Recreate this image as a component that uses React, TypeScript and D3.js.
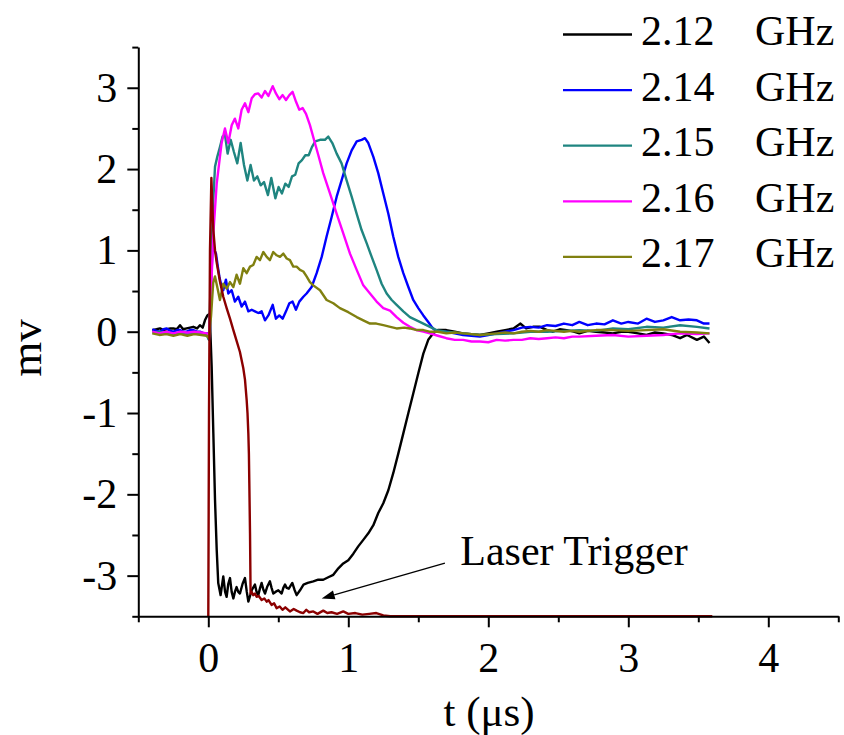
import { useEffect, useRef } from 'react';
import * as d3 from 'd3';

type Pt = [number, number];

// t (µs), mv
const black212: Pt[] = [
  [-0.4, 0.02], [-0.37, 0.03], [-0.345, 0.04], [-0.32, 0.02], [-0.298, 0.03], [-0.27, 0.04], [-0.25, 0.04],
  [-0.225, 0.03], [-0.202, 0.08], [-0.18, 0.03], [-0.155, 0.04], [-0.13, 0.05], [-0.107, 0.06], [-0.08, 0.04],
  [-0.06, 0.08], [-0.04, 0.05], [-0.024, 0.14], [-0.007, 0.2], [0.01, 0.22], [0.024, -0.43], [0.036, -1.25],
  [0.048, -2.07], [0.06, -2.68], [0.071, -3.09], [0.088, -3.24], [0.107, -3.01], [0.12, -3.2], [0.131, -3.26],
  [0.143, -3.1], [0.155, -3.03], [0.167, -3.2], [0.179, -3.28], [0.19, -3.2], [0.202, -3.14], [0.214, -3.2],
  [0.226, -3.22], [0.245, -3.1], [0.262, -3.03], [0.275, -3.2], [0.286, -3.32], [0.298, -3.25], [0.31, -3.18],
  [0.333, -3.11], [0.345, -3.2], [0.357, -3.24], [0.37, -3.15], [0.381, -3.09], [0.393, -3.17], [0.405, -3.22],
  [0.42, -3.14], [0.44, -3.07], [0.452, -3.15], [0.464, -3.22], [0.48, -3.2], [0.5, -3.18], [0.512, -3.2],
  [0.524, -3.22], [0.536, -3.15], [0.548, -3.11], [0.56, -3.15], [0.575, -3.16], [0.6, -3.09], [0.615, -3.17],
  [0.631, -3.24], [0.655, -3.18], [0.68, -3.11], [0.71, -3.09], [0.75, -3.07], [0.785, -3.05], [0.821, -3.05],
  [0.857, -3.02], [0.893, -2.99], [0.929, -2.91], [0.964, -2.85], [1.0, -2.81], [1.036, -2.73], [1.071, -2.64],
  [1.107, -2.56], [1.143, -2.48], [1.179, -2.38], [1.214, -2.23], [1.25, -2.11], [1.286, -1.95], [1.321, -1.74],
  [1.357, -1.5], [1.393, -1.25], [1.429, -1.0], [1.464, -0.76], [1.5, -0.51], [1.536, -0.27], [1.571, -0.1],
  [1.607, -0.02], [1.64, 0.02], [1.7, 0.02], [1.76, 0.0], [1.82, -0.02], [1.88, -0.03], [1.94, -0.04],
  [2.0, -0.02], [2.06, 0.0], [2.12, 0.02], [2.18, 0.04], [2.23, 0.1], [2.27, 0.04], [2.32, 0.06], [2.37, 0.06],
  [2.42, 0.02], [2.46, 0.0], [2.51, 0.03], [2.56, 0.02], [2.61, 0.0], [2.65, -0.02], [2.71, 0.01], [2.77, 0.0],
  [2.83, -0.01], [2.89, -0.02], [2.95, 0.0], [3.0, 0.0], [3.07, -0.02], [3.13, -0.04], [3.19, -0.01],
  [3.25, -0.02], [3.31, -0.04], [3.37, -0.08], [3.42, -0.04], [3.49, -0.1], [3.54, -0.06], [3.58, -0.14],
];

const blue214: Pt[] = [
  [-0.4, 0.03], [-0.37, 0.01], [-0.345, 0.0], [-0.32, 0.03], [-0.298, 0.04], [-0.27, 0.01], [-0.25, 0.0],
  [-0.22, 0.02], [-0.202, 0.02], [-0.18, 0.0], [-0.155, 0.0], [-0.13, 0.02], [-0.107, 0.02], [-0.08, 0.0],
  [-0.06, 0.0], [-0.03, -0.02], [-0.005, -0.02], [0.005, -0.1], [0.012, 0.02], [0.02, 0.6], [0.031, 1.05],
  [0.045, 1.0], [0.055, 0.96], [0.068, 0.8], [0.079, 0.68], [0.095, 0.55], [0.107, 0.51], [0.126, 0.64],
  [0.143, 0.47], [0.167, 0.51], [0.19, 0.37], [0.214, 0.43], [0.238, 0.31], [0.262, 0.37], [0.286, 0.25],
  [0.31, 0.27], [0.333, 0.25], [0.357, 0.23], [0.381, 0.25], [0.405, 0.14], [0.429, 0.2], [0.46, 0.33],
  [0.483, 0.16], [0.507, 0.2], [0.531, 0.16], [0.555, 0.25], [0.579, 0.35], [0.602, 0.37], [0.626, 0.27],
  [0.65, 0.37], [0.679, 0.43], [0.702, 0.47], [0.738, 0.55], [0.774, 0.72], [0.81, 0.92], [0.845, 1.17],
  [0.881, 1.41], [0.917, 1.66], [0.952, 1.86], [0.988, 2.07], [1.024, 2.23], [1.06, 2.34], [1.095, 2.36],
  [1.119, 2.38], [1.143, 2.32], [1.179, 2.15], [1.214, 1.95], [1.25, 1.7], [1.286, 1.45], [1.321, 1.17],
  [1.357, 0.92], [1.393, 0.72], [1.429, 0.55], [1.464, 0.39], [1.5, 0.29], [1.536, 0.2], [1.571, 0.12],
  [1.6, 0.05], [1.63, 0.0], [1.7, 0.0], [1.76, -0.02], [1.82, -0.04], [1.88, -0.05], [1.94, -0.06],
  [2.0, -0.04], [2.06, -0.02], [2.12, 0.0], [2.18, 0.02], [2.24, 0.05], [2.3, 0.06], [2.36, 0.05],
  [2.42, 0.08], [2.48, 0.07], [2.54, 0.1], [2.6, 0.08], [2.65, 0.12], [2.71, 0.08], [2.77, 0.1], [2.83, 0.09],
  [2.89, 0.14], [2.95, 0.1], [3.0, 0.12], [3.07, 0.1], [3.13, 0.16], [3.19, 0.12], [3.25, 0.14], [3.31, 0.18],
  [3.37, 0.14], [3.43, 0.15], [3.49, 0.14], [3.54, 0.1], [3.58, 0.1],
];

const teal215: Pt[] = [
  [-0.4, -0.01], [-0.35, 0.0], [-0.3, -0.02], [-0.25, -0.03], [-0.2, -0.02], [-0.15, -0.03], [-0.1, -0.02],
  [-0.05, -0.02], [-0.01, -0.05], [0.005, -0.1], [0.02, 0.8], [0.035, 1.6], [0.048, 2.03], [0.064, 2.15],
  [0.083, 2.27], [0.102, 2.4], [0.119, 2.42], [0.138, 2.19], [0.16, 2.36], [0.183, 2.21], [0.207, 2.07],
  [0.231, 2.32], [0.255, 2.05], [0.279, 1.86], [0.302, 2.05], [0.326, 1.86], [0.35, 1.91], [0.374, 1.8],
  [0.398, 1.84], [0.426, 1.68], [0.45, 1.89], [0.479, 1.64], [0.502, 1.78], [0.526, 1.7], [0.55, 1.82],
  [0.574, 1.78], [0.598, 1.91], [0.621, 1.93], [0.645, 2.07], [0.669, 2.11], [0.693, 2.17], [0.717, 2.17],
  [0.74, 2.27], [0.764, 2.34], [0.798, 2.36], [0.833, 2.36], [0.857, 2.4], [0.886, 2.32], [0.917, 2.19],
  [0.952, 2.07], [0.988, 1.86], [1.024, 1.66], [1.06, 1.45], [1.095, 1.25], [1.131, 1.09], [1.167, 0.92],
  [1.202, 0.76], [1.238, 0.59], [1.274, 0.47], [1.31, 0.39], [1.345, 0.33], [1.393, 0.25], [1.44, 0.18],
  [1.488, 0.14], [1.536, 0.1], [1.583, 0.06], [1.63, 0.02], [1.7, 0.0], [1.82, -0.02], [1.94, -0.04],
  [2.06, -0.03], [2.18, -0.02], [2.3, 0.0], [2.42, 0.0], [2.54, 0.01], [2.65, 0.02], [2.77, 0.01],
  [2.89, 0.04], [3.0, 0.03], [3.13, 0.06], [3.25, 0.05], [3.37, 0.08], [3.49, 0.06], [3.58, 0.04],
];

const magenta216: Pt[] = [
  [-0.4, 0.0], [-0.35, -0.02], [-0.3, 0.0], [-0.25, -0.02], [-0.2, 0.0], [-0.15, -0.01], [-0.1, 0.0],
  [-0.05, -0.01], [-0.01, -0.02], [0.005, -0.06], [0.02, 0.5], [0.036, 1.21], [0.06, 1.82], [0.083, 2.15],
  [0.095, 2.32], [0.119, 2.5], [0.143, 2.32], [0.167, 2.54], [0.19, 2.62], [0.214, 2.5], [0.238, 2.73],
  [0.262, 2.81], [0.286, 2.7], [0.31, 2.87], [0.333, 2.92], [0.357, 2.93], [0.381, 2.88], [0.405, 2.96],
  [0.429, 2.9], [0.46, 3.02], [0.483, 2.93], [0.507, 2.86], [0.531, 2.91], [0.555, 2.85], [0.579, 2.91],
  [0.602, 2.95], [0.626, 2.83], [0.65, 2.73], [0.674, 2.75], [0.698, 2.68], [0.726, 2.54], [0.755, 2.36],
  [0.786, 2.17], [0.821, 1.95], [0.869, 1.7], [0.917, 1.45], [0.964, 1.21], [1.012, 0.96], [1.06, 0.76],
  [1.107, 0.57], [1.155, 0.47], [1.202, 0.37], [1.25, 0.29], [1.298, 0.26], [1.345, 0.18], [1.393, 0.11],
  [1.44, 0.06], [1.488, 0.02], [1.536, 0.0], [1.583, -0.02], [1.64, -0.05], [1.7, -0.08], [1.76, -0.1],
  [1.82, -0.1], [1.88, -0.12], [1.94, -0.12], [2.0, -0.13], [2.06, -0.1], [2.12, -0.11], [2.18, -0.1],
  [2.24, -0.1], [2.3, -0.08], [2.36, -0.09], [2.42, -0.08], [2.48, -0.07], [2.54, -0.08], [2.6, -0.06],
  [2.65, -0.06], [2.77, -0.05], [2.89, -0.04], [3.0, -0.06], [3.13, -0.05], [3.25, -0.04], [3.37, -0.02],
  [3.49, -0.03], [3.58, -0.02],
];

const olive217: Pt[] = [
  [-0.4, -0.02], [-0.35, -0.04], [-0.3, -0.03], [-0.25, -0.05], [-0.2, -0.03], [-0.15, -0.05], [-0.1, -0.03],
  [-0.05, -0.04], [-0.01, -0.05], [0.005, -0.08], [0.02, 0.2], [0.035, 0.6], [0.048, 0.68], [0.064, 0.55],
  [0.083, 0.39], [0.107, 0.59], [0.131, 0.53], [0.155, 0.61], [0.179, 0.55], [0.202, 0.7], [0.226, 0.59],
  [0.25, 0.78], [0.274, 0.72], [0.298, 0.8], [0.321, 0.82], [0.345, 0.92], [0.369, 0.88], [0.393, 0.98],
  [0.417, 0.92], [0.44, 0.88], [0.464, 0.98], [0.488, 0.94], [0.512, 0.92], [0.536, 0.96], [0.56, 0.9],
  [0.583, 0.88], [0.607, 0.8], [0.631, 0.8], [0.655, 0.76], [0.679, 0.74], [0.702, 0.68], [0.726, 0.61],
  [0.75, 0.57], [0.798, 0.51], [0.845, 0.39], [0.893, 0.35], [0.94, 0.29], [1.0, 0.24], [1.06, 0.18],
  [1.107, 0.14], [1.155, 0.1], [1.2, 0.1], [1.25, 0.08], [1.3, 0.06], [1.345, 0.04], [1.4, 0.05],
  [1.44, 0.04], [1.49, 0.02], [1.536, 0.02], [1.58, 0.0], [1.64, 0.0], [1.7, -0.02], [1.76, -0.01],
  [1.82, -0.02], [1.88, -0.03], [1.94, -0.04], [2.0, -0.03], [2.06, -0.02], [2.12, -0.01], [2.18, -0.02],
  [2.24, 0.0], [2.3, 0.01], [2.36, 0.0], [2.42, 0.02], [2.48, 0.01], [2.54, 0.0], [2.6, 0.01], [2.65, 0.0],
  [2.77, 0.02], [2.89, 0.02], [3.0, 0.01], [3.13, 0.02], [3.25, 0.03], [3.37, 0.0], [3.49, -0.01], [3.58, -0.02],
];

const laserTrigger: Pt[] = [
  [0.0, -3.5], [0.005, -1.0], [0.012, 1.0], [0.022, 1.89], [0.03, 1.5], [0.036, 1.25], [0.048, 1.0],
  [0.06, 0.85], [0.083, 0.62], [0.107, 0.43], [0.131, 0.29], [0.155, 0.16], [0.179, 0.02], [0.2, -0.1],
  [0.226, -0.25], [0.25, -0.45], [0.262, -0.59], [0.274, -0.84], [0.28, -1.0], [0.286, -1.25], [0.29, -1.5],
  [0.293, -1.86], [0.298, -2.48], [0.302, -3.22], [0.31, -3.2], [0.321, -3.24], [0.333, -3.22],
  [0.345, -3.26], [0.36, -3.25], [0.381, -3.3], [0.4, -3.28], [0.417, -3.32], [0.43, -3.3], [0.452, -3.36],
  [0.47, -3.34], [0.488, -3.4], [0.51, -3.38], [0.53, -3.42], [0.55, -3.39], [0.583, -3.44], [0.61, -3.41],
  [0.631, -3.43], [0.655, -3.45], [0.679, -3.46], [0.7, -3.42], [0.72, -3.45], [0.75, -3.44], [0.78, -3.47],
  [0.821, -3.43], [0.85, -3.46], [0.88, -3.45], [0.92, -3.47], [0.964, -3.44], [1.0, -3.47], [1.05, -3.46],
  [1.1, -3.48], [1.15, -3.47], [1.2, -3.46], [1.25, -3.49], [1.3, -3.5], [3.6, -3.5],
];

const seriesNames = ['2.12', '2.14', '2.15', '2.16', '2.17'];
const seriesData = [black212, blue214, teal215, magenta216, olive217];
const seriesColors = ['#000000', '#0000ff', '#1f8580', '#ff00ff', '#808010'];
const laserColor = '#8b0000';

const xMajor = [0, 1, 2, 3, 4];
const xMinor = [-0.5, 0.5, 1.5, 2.5, 3.5, 4.5];
const yMajor = [-3, -2, -1, 0, 1, 2, 3];
const yMinor = [-3.5, -2.5, -1.5, -0.5, 0.5, 1.5, 2.5, 3.5];

// annotation: label anchor and arrow (data units)
const laserLabel = { t: 1.8, v: -2.87, text: 'Laser Trigger' };
const laserArrow = { from: [1.69, -2.845] as Pt, to: [0.81, -3.28] as Pt };

const FONT = 'Liberation Serif, Tinos, Times New Roman, DejaVu Serif, serif';

export default function App() {
  const svgRef = useRef<SVGSVGElement>(null);

  useEffect(() => {
    if (!svgRef.current) return;
    const svg = d3.select(svgRef.current);
    svg.selectAll('*').remove();

    const x = d3.scaleLinear().domain([-0.5, 4.5]).range([138.3, 838.3]);
    const y = d3.scaleLinear().domain([-3.5, 3.5]).range([616.3, 47.1]);

    const line = d3.line<Pt>().x((d) => x(d[0])).y((d) => y(d[1]));

    // traces
    const traces = svg.append('g').attr('fill', 'none').attr('stroke-linejoin', 'round');
    seriesData.forEach((s, i) => {
      traces.append('path').attr('d', line(s)).attr('stroke', seriesColors[i]).attr('stroke-width', 2.4);
    });
    traces.append('path').attr('d', line(laserTrigger)).attr('stroke', laserColor).attr('stroke-width', 2.4);

    // axes
    const styleAxis = (g: d3.Selection<SVGGElement, unknown, null, undefined>) => {
      g.attr('font-family', null).attr('font-size', null);
      g.selectAll('path').attr('stroke', '#000').attr('stroke-width', 2);
      g.selectAll('line').attr('stroke', '#000').attr('stroke-width', 2);
      g.selectAll('text').style('font-family', FONT).style('font-size', '42px').attr('fill', '#000');
    };

    const yAxis = svg.append('g').attr('transform', `translate(${x(-0.5)},0)`)
      .call(d3.axisLeft(y).tickValues(yMajor).tickSize(11).tickSizeOuter(0).tickPadding(10)
        .tickFormat((d) => String(d).replace('−', '-')));
    styleAxis(yAxis);
    const yMin = svg.append('g').attr('transform', `translate(${x(-0.5)},0)`)
      .call(d3.axisLeft(y).tickValues(yMinor).tickSize(6).tickSizeOuter(0).tickFormat(() => ''));
    yMin.select('.domain').remove();
    styleAxis(yMin);

    const xAxis = svg.append('g').attr('transform', `translate(0,${y(-3.5)})`)
      .call(d3.axisBottom(x).tickValues(xMajor).tickSize(11).tickSizeOuter(0).tickPadding(15)
        .tickFormat((d) => String(d)));
    styleAxis(xAxis);
    const xMin = svg.append('g').attr('transform', `translate(0,${y(-3.5)})`)
      .call(d3.axisBottom(x).tickValues(xMinor).tickSize(6).tickSizeOuter(0).tickFormat(() => ''));
    xMin.select('.domain').remove();
    styleAxis(xMin);

    const txt = (sel: d3.Selection<SVGTextElement, unknown, null, undefined>, size: number) =>
      sel.style('font-family', FONT).style('font-size', `${size}px`).attr('fill', '#000');

    // axis titles
    txt(svg.append('text')
      .attr('transform', 'translate(41,348) rotate(-90)')
      .attr('text-anchor', 'middle')
      .text('mv'), 45);
    txt(svg.append('text')
      .attr('x', 489).attr('y', 726)
      .attr('text-anchor', 'middle')
      .text('t (\u03bcs)'), 43);

    // legend
    const legend = svg.append('g');
    seriesNames.forEach((name, i) => {
      const ly = 34.5 + i * 55.6;
      legend.append('line')
        .attr('x1', 563).attr('x2', 632).attr('y1', ly).attr('y2', ly)
        .attr('stroke', seriesColors[i]).attr('stroke-width', 2.3);
      txt(legend.append('text').attr('x', 641).attr('y', ly + 10.5).text(name), 42);
      txt(legend.append('text').attr('x', 755).attr('y', ly + 10.5).text('GHz'), 42);
    });

    // annotation
    txt(svg.append('text')
      .attr('x', x(laserLabel.t)).attr('y', y(laserLabel.v))
      .text(laserLabel.text), 42);

    const [fx, fy] = [x(laserArrow.from[0]), y(laserArrow.from[1])];
    const [tx, ty] = [x(laserArrow.to[0]), y(laserArrow.to[1])];
    const ang = Math.atan2(ty - fy, tx - fx);
    const headLen = 13, headW = 4.5;
    const bx = tx - headLen * Math.cos(ang), by = ty - headLen * Math.sin(ang);
    svg.append('line')
      .attr('x1', fx).attr('y1', fy).attr('x2', bx).attr('y2', by)
      .attr('stroke', '#000').attr('stroke-width', 1.3);
    svg.append('path')
      .attr('d', `M${tx},${ty} L${bx + headW * Math.sin(ang)},${by - headW * Math.cos(ang)} L${bx - headW * Math.sin(ang)},${by + headW * Math.cos(ang)} Z`)
      .attr('fill', '#000');
  }, []);

  return (
    <div style={{ position: 'absolute', left: 0, top: 0 }}>
      <svg ref={svgRef} width={844} height={735} style={{ display: 'block', background: '#fff' }} />
    </div>
  );
}
